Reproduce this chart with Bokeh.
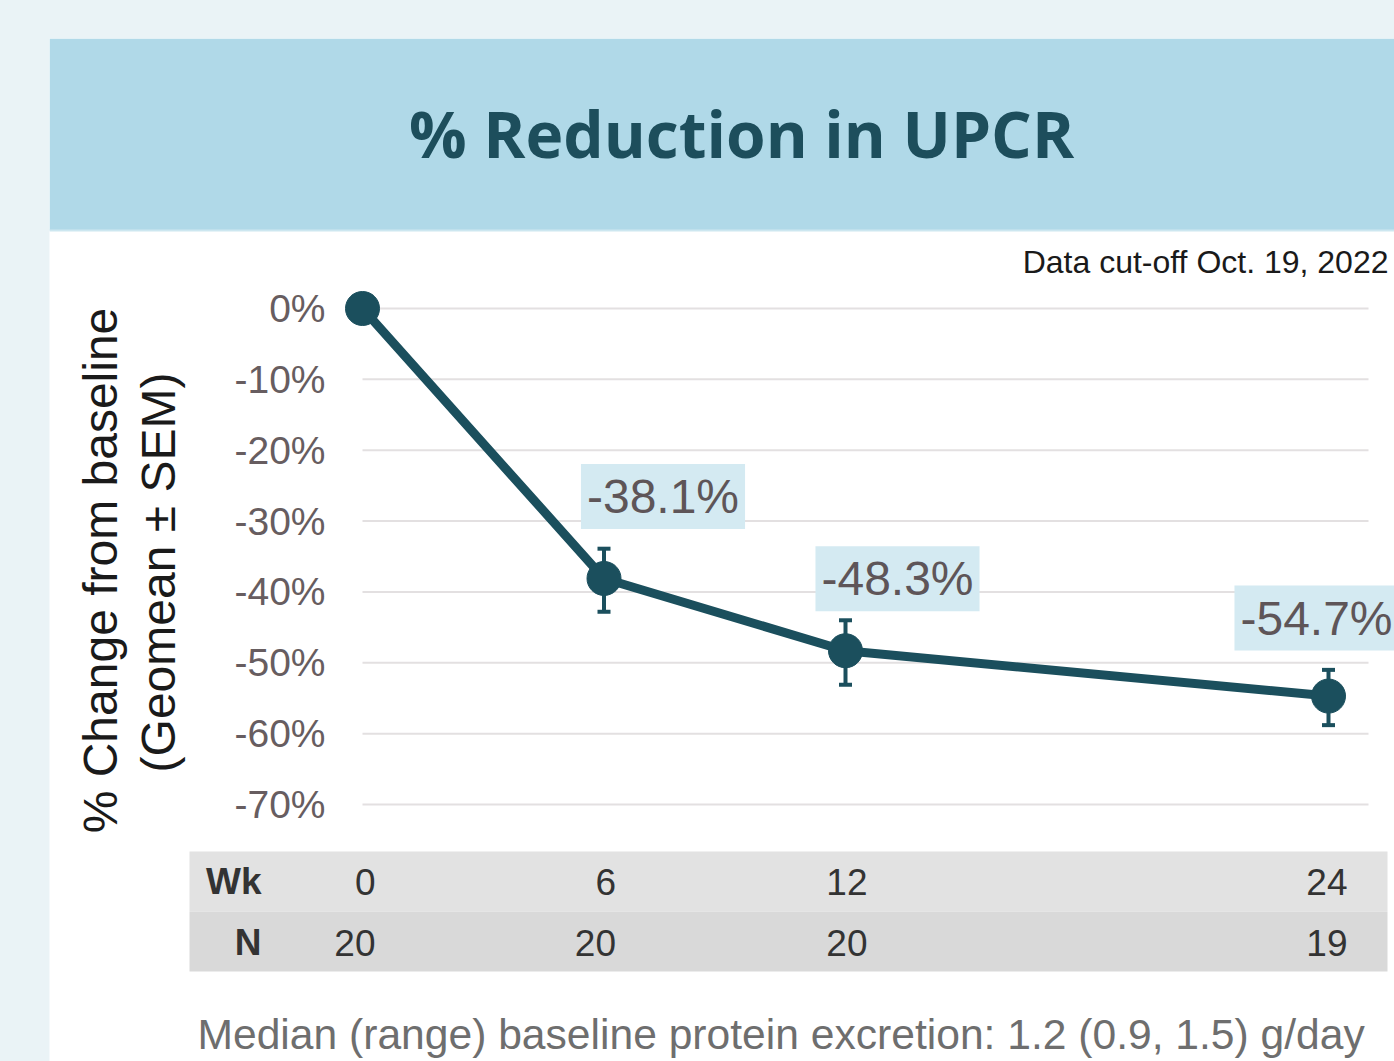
import math
from bokeh.plotting import figure
from bokeh.models import ColumnDataSource, Range1d, Whisker, TeeHead
from bokeh.core.properties import value
from bokeh.embed import file_html
from bokeh.resources import INLINE

# ---------------- data ----------------
title_text = "% Reduction in UPCR"
cutoff_text = "Data cut-off Oct. 19, 2022"
y_title_1 = "% Change from baseline"
y_title_2 = "(Geomean \u00b1 SEM)"
footer_text = "Median (range) baseline protein excretion: 1.2 (0.9, 1.5) g/day"

weeks = [0, 6, 12, 24]
pct_change = [0.0, -38.1, -48.3, -54.7]
sem_weeks = [6, 12, 24]
sem_upper = [-33.9, -44.0, -51.0]
sem_lower = [-42.8, -53.1, -58.8]
n_patients = [20, 20, 20, 19]
y_ticks = [0, -10, -20, -30, -40, -50, -60, -70]
y_tick_labels = ["0%", "-10%", "-20%", "-30%", "-40%", "-50%", "-60%", "-70%"]
row_labels = ["Wk", "N"]

# ---------------- layout helpers (screen px -> data) ----------------
PX0, PXW = 362.0, 40.25      # screen x of week 0, px per week
PY0, PYU = 308.0, 496.0 / 70  # screen y of 0 %, px per %

def X(px):
    return (px - PX0) / PXW

def Y(py):
    return (PY0 - py) / PYU

W, H = 1394, 1061
p = figure(width=W, height=H, output_backend="svg", toolbar_location=None,
           x_range=Range1d(X(49), X(1394)), y_range=Range1d(Y(1061), Y(38)),
           x_axis_location=None, y_axis_location=None, title=None)
p.min_border = 0
p.min_border_left = 49
p.min_border_top = 38
p.outline_line_color = None
p.background_fill_color = "white"
p.border_fill_color = "#EAF3F6"
p.xgrid.visible = False
p.ygrid.visible = False

LIB = value("Liberation Sans")

# header band
p.quad(left=X(49), right=X(1394), top=Y(38), bottom=Y(230),
       fill_color="#B0D9E8", line_color=None)
p.segment(x0=X(49), y0=Y(230), x1=X(1394), y1=Y(230), line_color="#CDE7F0", line_width=2)
p.text(x=[X(741)], y=[Y(133)], text=[title_text], text_font=value("Open Sans"),
       text_font_style="bold", text_font_size="64px", text_align="center",
       text_baseline="middle", text_color="#1D4E5C")

# cut-off note
p.text(x=[X(1388)], y=[Y(261)], text=[cutoff_text], text_font=LIB,
       text_font_size="32px", text_align="right", text_baseline="middle",
       text_color="#1A1A1A")

# gridlines + y tick labels
p.segment(x0=[0] * len(y_ticks), y0=y_ticks, x1=[X(1368)] * len(y_ticks), y1=y_ticks,
          line_color="#E3E0E1", line_width=2)
p.text(x=[X(325)] * len(y_ticks), y=y_ticks, text=y_tick_labels, text_font=LIB,
       text_font_size="39px", text_align="right", text_baseline="middle",
       text_color="#675D60")

# y-axis title (rotated)
p.text(x=[X(100)], y=[Y(570)], text=[y_title_1], angle=math.pi / 2, text_font=LIB,
       text_font_size="48px", text_align="center", text_baseline="alphabetic",
       text_color="#1A1A1A")
p.text(x=[X(158)], y=[Y(572)], text=[y_title_2], angle=math.pi / 2, text_font=LIB,
       text_font_size="48px", text_align="center", text_baseline="alphabetic",
       text_color="#1A1A1A")

# series
LINE_C = "#1B4F5D"
p.line(weeks, pct_change, line_color=LINE_C, line_width=9, line_join="round")
err_src = ColumnDataSource(dict(x=sem_weeks, upper=sem_upper, lower=sem_lower))
p.add_layout(Whisker(source=err_src, base="x", upper="upper", lower="lower",
                     line_color=LINE_C, line_width=4,
                     upper_head=TeeHead(size=13, line_color=LINE_C, line_width=4),
                     lower_head=TeeHead(size=13, line_color=LINE_C, line_width=4)))
p.scatter(weeks, pct_change, size=34, fill_color=LINE_C, line_color=LINE_C)

# value labels
lab_src = ColumnDataSource(dict(x=weeks[1:], y=pct_change[1:],
                                t=[f"{v:.1f}%" for v in pct_change[1:]],
                                dx=[59, 52, -12], dy=[-82, -72, -78]))
p.text(x="x", y="y", text="t", x_offset="dx", y_offset="dy", source=lab_src,
       text_font=LIB, text_font_size="48px", text_align="center",
       text_baseline="middle", text_color="#5E5558",
       background_fill_color="#D4EAF2", padding=6)

# table
p.quad(left=X(189), right=X(1387), top=Y(851), bottom=Y(911),
       fill_color="#E2E2E2", line_color=None)
p.quad(left=X(189), right=X(1387), top=Y(911), bottom=Y(971),
       fill_color="#D9D9D9", line_color=None)
row_y = [Y(881), Y(942)]
p.text(x=[X(261)] * 2, y=row_y, text=row_labels, text_font=LIB,
       text_font_style="bold", text_font_size="37px", text_align="right",
       text_baseline="middle", text_color="#333333")
col_dx = [13, 12, 22, 19]
p.text(x=weeks, y=[row_y[0]] * 4, text=[str(w) for w in weeks], x_offset=col_dx,
       text_font=LIB, text_font_size="37px", text_align="right",
       text_baseline="middle", text_color="#333333")
p.text(x=weeks, y=[row_y[1]] * 4, text=[str(n) for n in n_patients], x_offset=col_dx,
       text_font=LIB, text_font_size="37px", text_align="right",
       text_baseline="middle", text_color="#333333")

# footer
p.text(x=[X(197)], y=[Y(1033)], text=[footer_text], text_font=LIB,
       text_font_size="42.6px", text_align="left", text_baseline="middle",
       text_color="#6E6E6E")

html = file_html(p, INLINE)
html = html.replace("</head>", "<style>html,body{background:#EAF3F6;overflow:hidden;}</style></head>", 1)
open("out.html", "w").write(html)
